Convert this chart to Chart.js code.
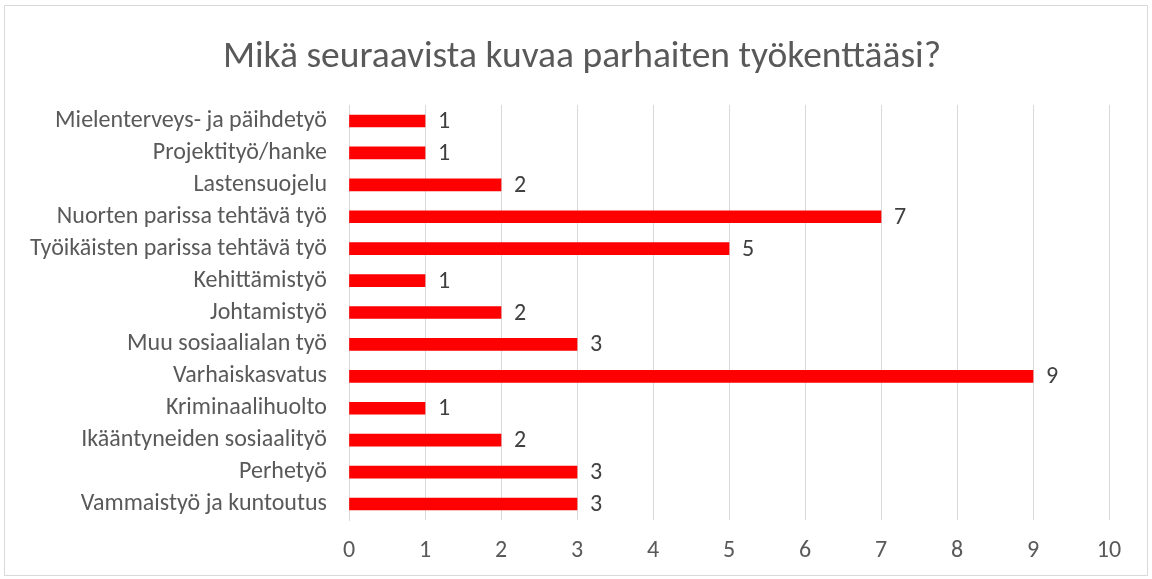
<!DOCTYPE html>
<html>
<head>
<meta charset="utf-8">
<script src="https://cdn.jsdelivr.net/npm/chart.js@4/dist/chart.umd.min.js"></script>
<style>
  html, body { margin: 0; padding: 0; background: #fff; }
  #wrap { position: relative; width: 1152px; height: 579px; }
  #frame { position: absolute; left: 4px; top: 5px; width: 1142px; height: 569px; border: 1px solid #d9d9d9; pointer-events: none; }
</style>
</head>
<body>
<div id="wrap">
  <canvas id="surveyChart" width="1152" height="579"></canvas>
  <div id="frame"></div>
</div>
<script>
// chart data
const titleText = 'Mikä seuraavista kuvaa parhaiten työkenttääsi?';
const categories = [
    'Mielenterveys- ja päihdetyö',
    'Projektityö/hanke',
    'Lastensuojelu',
    'Nuorten parissa tehtävä työ',
    'Työikäisten parissa tehtävä työ',
    'Kehittämistyö',
    'Johtamistyö',
    'Muu sosiaalialan työ',
    'Varhaiskasvatus',
    'Kriminaalihuolto',
    'Ikääntyneiden sosiaalityö',
    'Perhetyö',
    'Vammaistyö ja kuntoutus'
];
const answers = [1, 1, 2, 7, 5, 1, 2, 3, 9, 1, 2, 3, 3];
const xTicks = [0, 1, 2, 3, 4, 5, 6, 7, 8, 9, 10];

const fontFamily = "Calibri, Carlito, 'Open Sans', sans-serif";

// value labels at the end of each bar
const barLabels = {
    id: 'barLabels',
    afterDatasetsDraw(chart) {
        const c = chart.ctx;
        const meta = chart.getDatasetMeta(0);
        c.save();
        c.font = '24px ' + fontFamily;
        c.fillStyle = '#404040';
        c.textAlign = 'left';
        c.textBaseline = 'middle';
        meta.data.forEach((bar, i) => {
            c.fillText(String(answers[i]), bar.x + 13, bar.y + 1);
        });
        c.restore();
    }
};

// title is centred on the whole frame, not on the padded layout box
const centreTitle = {
    id: 'centreTitle',
    afterLayout(chart) {
        if (chart.titleBlock) {
            chart.titleBlock.left = 16;
            chart.titleBlock.right = 1148;
        }
    }
};

const ctx = document.getElementById('surveyChart').getContext('2d');

const chart = new Chart(ctx, {
    type: 'bar',
    data: {
        labels: categories,
        datasets: [{
            data: answers,
            backgroundColor: '#ff0000',
            borderWidth: 0,
            barThickness: 12
        }]
    },
    options: {
        indexAxis: 'y',
        responsive: false,
        animation: false,
        layout: { padding: { left: 10, right: 43, top: 0, bottom: 9 } },
        scales: {
            x: {
                min: 0,
                max: 10,
                afterBuildTicks: (axis) => { axis.ticks = xTicks.map(v => ({ value: v })); },
                grid: { color: '#d9d9d9', lineWidth: 1, drawTicks: false },
                border: { display: false },
                ticks: { color: '#595959', font: { family: fontFamily, size: 24 }, padding: 17 },
                afterFit: (axis) => { axis.height = 50; }
            },
            y: {
                grid: { display: false, drawTicks: false },
                border: { color: '#d9d9d9' },
                ticks: { color: '#595959', font: { family: fontFamily, size: 24 }, padding: 22, autoSkip: false },
                afterFit: (axis) => { axis.width = 339; }
            }
        },
        plugins: {
            legend: { display: false },
            tooltip: { enabled: false },
            title: {
                display: true,
                text: titleText,
                color: '#595959',
                font: { family: fontFamily, size: 37.5, weight: 'normal' },
                padding: { top: 35, bottom: 25 }
            }
        }
    },
    plugins: [barLabels, centreTitle]
});
</script>
</body>
</html>
